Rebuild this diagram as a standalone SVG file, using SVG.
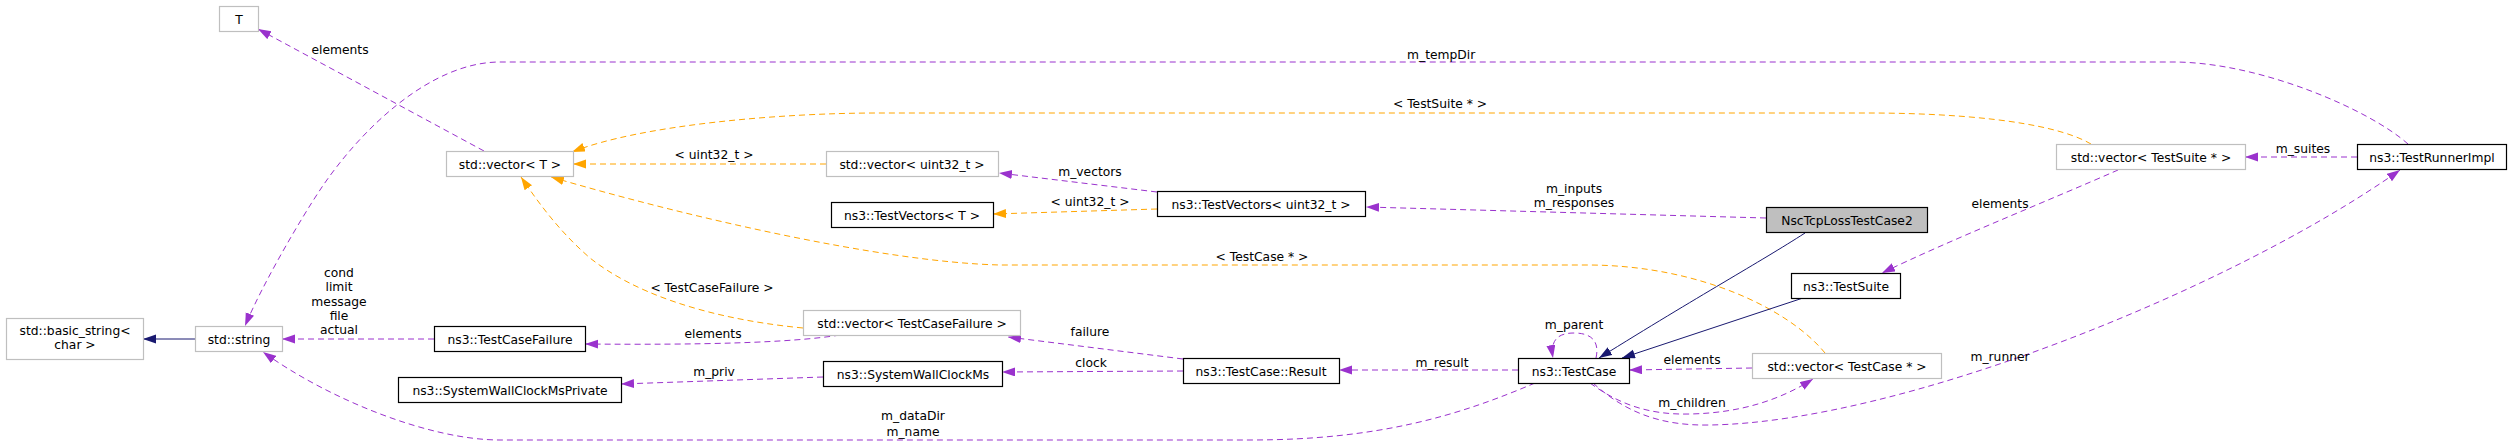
<svg xmlns="http://www.w3.org/2000/svg" width="2512" height="445" viewBox="0 0 2512 445">
<style>
text{font-family:"DejaVu Sans","Liberation Sans",sans-serif;font-size:12.3px;fill:#000;text-anchor:middle}
.g rect{fill:#fff;stroke:#bfbfbf;stroke-width:1.2}
.k rect{fill:#fff;stroke:#000;stroke-width:1.2}
.c rect{fill:#bfbfbf;stroke:#000;stroke-width:1.2}
.p{fill:none;stroke:#9a32cd;stroke-width:1;stroke-dasharray:6,4}
.o{fill:none;stroke:#ffa500;stroke-width:1;stroke-dasharray:6,4}
.b{fill:none;stroke:#191970;stroke-width:1}
</style>
<defs>
<marker id="ap" markerUnits="userSpaceOnUse" markerWidth="14" markerHeight="10" refX="13" refY="4.5" orient="auto"><path d="M0,0 L13,4.5 L0,9 z" fill="#9a32cd"/></marker>
<marker id="ao" markerUnits="userSpaceOnUse" markerWidth="14" markerHeight="10" refX="13" refY="4.5" orient="auto"><path d="M0,0 L13,4.5 L0,9 z" fill="#ffa500"/></marker>
<marker id="ab" markerUnits="userSpaceOnUse" markerWidth="14" markerHeight="10" refX="13" refY="4.5" orient="auto"><path d="M0,0 L13,4.5 L0,9 z" fill="#191970"/></marker>
</defs>
<rect width="2512" height="445" fill="#fff"/>
<g id="edges">
<path class="b" d="M195,339 L143,339" marker-end="url(#ab)"/>
<path class="p" d="M434,339 L282,339" marker-end="url(#ap)"/>
<text x="339" y="277">cond</text><text x="339" y="291">limit</text><text x="339" y="305.5">message</text><text x="339" y="320">file</text><text x="339" y="334">actual</text>
<path class="p" d="M2408,144 C2370,110 2260,62 2173,62 L500,62 C430,62 360,130 320,190 C300,220 262,285 245,326" marker-end="url(#ap)"/>
<text x="1407" y="59" style="text-anchor:start">m_tempDir</text>
<path class="o" d="M2091,144 C2050,120 1950,113 1868,113 L878,113 C780,113 640,125 572,152" marker-end="url(#ao)"/>
<text x="1440" y="108">&lt; TestSuite * &gt;</text>
<path class="o" d="M826,164 L573,164" marker-end="url(#ao)"/>
<text x="714" y="159">&lt; uint32_t &gt;</text>
<path class="p" d="M1157,192 L999,173" marker-end="url(#ap)"/>
<text x="1090" y="176">m_vectors</text>
<path class="o" d="M1157,209 L993,214" marker-end="url(#ao)"/>
<text x="1090" y="206">&lt; uint32_t &gt;</text>
<path class="p" d="M1766,218 L1366,207" marker-end="url(#ap)"/>
<text x="1574" y="193">m_inputs</text><text x="1574" y="207">m_responses</text>
<path class="o" d="M1825,353 C1790,310 1700,265 1587,265 L1000,265 C880,262 680,215 551,177" marker-end="url(#ao)"/>
<text x="1262" y="261">&lt; TestCase * &gt;</text>
<path class="o" d="M803,328 C700,318 630,290 590,258 C560,232 540,205 521,177" marker-end="url(#ao)"/>
<text x="712" y="292">&lt; TestCaseFailure &gt;</text>
<path class="p" d="M840,335 C790,343 700,345 585,344" marker-end="url(#ap)"/>
<text x="713" y="338">elements</text>
<path class="p" d="M484,151 L258,29" marker-end="url(#ap)"/>
<text x="340" y="54">elements</text>
<path class="p" d="M1183,359 L1008,337" marker-end="url(#ap)"/>
<text x="1090" y="336">failure</text>
<path class="p" d="M1183,371 L1002,372" marker-end="url(#ap)"/>
<text x="1091" y="367">clock</text>
<path class="p" d="M823,377 L621,384" marker-end="url(#ap)"/>
<text x="714" y="376">m_priv</text>
<path class="p" d="M1518,370 L1339,370" marker-end="url(#ap)"/>
<text x="1442" y="367">m_result</text>
<path class="p" d="M1596,358 C1600,340 1590,333 1574,333 C1558,333 1550,340 1553,358" marker-end="url(#ap)"/>
<text x="1574" y="329">m_parent</text>
<path class="p" d="M1752,368 L1629,370" marker-end="url(#ap)"/>
<text x="1692" y="364">elements</text>
<path class="p" d="M1590,383 C1620,405 1650,415 1690,414 C1740,413 1780,400 1813,379" marker-end="url(#ap)"/>
<text x="1692" y="407">m_children</text>
<path class="p" d="M1593,383 C1625,412 1660,426 1710,425 C1900,422 2230,290 2400,170" marker-end="url(#ap)"/>
<text x="2000" y="361">m_runner</text>
<path class="p" d="M1535,383 C1460,415 1380,440 1250,440 L500,440 C430,440 330,400 263,352" marker-end="url(#ap)"/>
<text x="913" y="420">m_dataDir</text><text x="913" y="436">m_name</text>
<path class="b" d="M1805,233 C1760,262 1700,295 1599,358" marker-end="url(#ab)"/>
<path class="b" d="M1803,298 L1622,358" marker-end="url(#ab)"/>
<path class="p" d="M2118,170 C2050,200 1950,240 1882,273" marker-end="url(#ap)"/>
<text x="2000" y="208">elements</text>
<path class="p" d="M2357,157 L2245,157" marker-end="url(#ap)"/>
<text x="2303" y="153">m_suites</text>
</g>
<g id="n_T" class="g"><rect x="219.5" y="6.5" width="39" height="25"/><text x="239" y="23.5">T</text></g>
<g id="n_basic_string" class="g"><rect x="6.5" y="318.5" width="137" height="41"/><text x="75" y="334.5">std::basic_string&lt;</text><text x="75" y="348.5">char &gt;</text></g>
<g id="n_string" class="g"><rect x="195.5" y="326.5" width="87" height="25"/><text x="239" y="343.5">std::string</text></g>
<g id="n_vector_T" class="g"><rect x="446.5" y="151.5" width="127" height="25"/><text x="510" y="168.5">std::vector&lt; T &gt;</text></g>
<g id="n_TestCaseFailure" class="k"><rect x="434.5" y="326.5" width="151" height="25"/><text x="510" y="343.5">ns3::TestCaseFailure</text></g>
<g id="n_SWCMsPrivate" class="k"><rect x="398.5" y="377.5" width="223" height="25"/><text x="510" y="394.5">ns3::SystemWallClockMsPrivate</text></g>
<g id="n_vector_uint32" class="g"><rect x="826.5" y="151.5" width="172" height="25"/><text x="912" y="168.5">std::vector&lt; uint32_t &gt;</text></g>
<g id="n_TestVectors_T" class="k"><rect x="831.5" y="202.5" width="162" height="25"/><text x="912" y="219.5">ns3::TestVectors&lt; T &gt;</text></g>
<g id="n_vector_TCF" class="g"><rect x="803.5" y="310.5" width="217" height="25"/><text x="912" y="327.5">std::vector&lt; TestCaseFailure &gt;</text></g>
<g id="n_SWCMs" class="k"><rect x="823.5" y="361.5" width="179" height="25"/><text x="913" y="378.5">ns3::SystemWallClockMs</text></g>
<g id="n_TestVectors_u" class="k"><rect x="1157.5" y="191.5" width="208" height="25"/><text x="1261" y="208.5">ns3::TestVectors&lt; uint32_t &gt;</text></g>
<g id="n_Result" class="k"><rect x="1183.5" y="358.5" width="156" height="25"/><text x="1261" y="375.5">ns3::TestCase::Result</text></g>
<g id="n_Nsc" class="c"><rect x="1766.5" y="207.5" width="161" height="25"/><text x="1847" y="224.5">NscTcpLossTestCase2</text></g>
<g id="n_TestCase" class="k"><rect x="1518.5" y="358.5" width="111" height="25"/><text x="1574" y="375.5">ns3::TestCase</text></g>
<g id="n_vector_TC" class="g"><rect x="1752.5" y="353.5" width="189" height="25"/><text x="1847" y="370.5">std::vector&lt; TestCase * &gt;</text></g>
<g id="n_TestSuite" class="k"><rect x="1791.5" y="273.5" width="109" height="25"/><text x="1846" y="290.5">ns3::TestSuite</text></g>
<g id="n_vector_TS" class="g"><rect x="2056.5" y="144.5" width="189" height="25"/><text x="2151" y="161.5">std::vector&lt; TestSuite * &gt;</text></g>
<g id="n_Runner" class="k"><rect x="2357.5" y="144.5" width="149" height="25"/><text x="2432" y="161.5">ns3::TestRunnerImpl</text></g>
</svg>
